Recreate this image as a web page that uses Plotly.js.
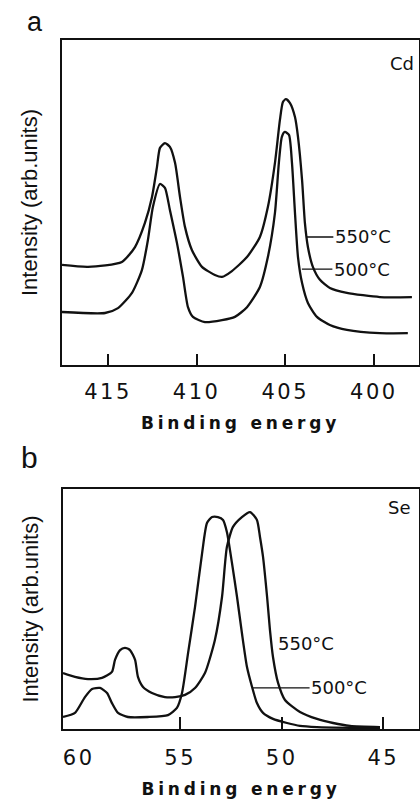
<!DOCTYPE html>
<html>
<head>
<meta charset="utf-8">
<script src="https://cdn.plot.ly/plotly-3.0.1.min.js"></script>
<style>
html,body{margin:0;padding:0;background:#fff;}
#chart{width:420px;height:802px;}
.xtitle, .x3title {letter-spacing:3.8px;}
.xtick text, .x3tick text {letter-spacing:2.5px;}
</style>
</head>
<body>
<div id="chart"></div>
<script>
// ---- Panel a: Cd 3d (binding energy in eV, intensity arb. units) ----
const cdEnergy550 = [417.60,416.13,414.22,413.48,412.92,412.52,412.24,412.07,411.79,411.51,411.22,410.94,410.66,410.27,409.70,408.97,408.57,408.01,407.16,406.43,405.98,405.58,405.30,405.13,404.96,404.73,404.45,404.28,404.05,403.89,403.72,403.44,403.04,402.48,401.52,399.66,397.85];
const cdIntensity550 = [30.8,30.2,31.7,36.3,43.7,51.7,60.9,66.8,68.3,67.1,62.2,51.7,42.5,35.4,30.2,27.7,27.1,28.9,33.2,39.4,48.6,62.2,75.4,80.9,81.8,80.6,76.3,70.2,56.9,43.7,36.3,30.2,26.2,23.7,22.2,20.9,20.9];
const cdEnergy500 = [417.60,415.17,414.44,413.65,413.09,412.75,412.47,412.07,411.79,411.51,411.11,410.77,410.49,410.21,409.53,408.57,407.84,407.16,406.43,405.98,405.58,405.36,405.19,405.02,404.79,404.62,404.45,404.28,404.05,403.72,403.21,402.48,401.52,399.66,398.08];
const cdIntensity500 = [16.3,16.0,17.5,22.2,29.2,38.5,48.6,55.7,54.5,47.7,37.5,27.1,17.8,14.8,13.2,13.8,14.8,17.8,24.0,33.2,46.8,62.2,70.2,71.7,70.8,62.2,46.8,33.2,25.2,19.1,14.8,12.3,10.8,9.8,9.8];
const cdTickVals = [415,410,405,400];

// ---- Panel b: Se 3d ----
const seEnergy550 = [60.77,60.18,59.54,58.85,58.36,58.21,57.96,57.72,57.47,57.22,57.08,56.83,56.39,55.75,55.25,54.76,54.27,53.78,53.29,52.94,52.70,52.40,51.96,51.56,51.22,51.07,50.92,50.72,50.58,50.43,50.18,49.84,49.10,48.26,47.47,46.63,45.16];
const seIntensity550 = [23.3,21.7,20.8,21.3,23.8,28.8,32.9,33.8,32.9,28.8,21.7,17.5,15.0,13.3,13.3,14.2,17.1,23.3,37.1,55.0,75.8,84.2,88.3,90.4,87.1,80.0,71.7,55.0,41.3,30.0,19.2,12.1,7.1,4.2,2.5,1.3,0.8];
const seEnergy500 = [60.77,60.18,59.69,59.34,58.95,58.60,58.36,58.06,57.57,56.59,55.60,55.16,54.91,54.61,54.27,53.92,53.68,53.43,53.14,52.89,52.70,52.45,52.20,51.96,51.71,51.46,51.22,50.92,50.43,49.74,49.10,48.26,46.63,45.16];
const seIntensity500 = [5.0,6.7,13.3,16.7,17.1,15.0,10.8,6.7,5.0,5.0,5.8,8.8,15.0,31.7,50.8,73.3,85.8,88.3,88.3,87.1,82.1,69.2,55.0,40.0,25.8,17.5,10.8,6.7,4.2,2.5,1.3,0.8,0.5,0.4];
const seTickLabelVals = [60,55,50,45];
const seTickMarkVals = [55,50,45];

const seriesNames = ['550°C','500°C'];
const panelLabels = ['a','b'];
const elementLabels = ['Cd','Se'];
const xTitle = 'Binding energy';
const yTitle = 'Intensity (arb.units)';

const lineStyle = {color:'#111', width:2.3, shape:'spline', smoothing:0.6};
const traces = [
  {x:cdEnergy550, y:cdIntensity550, name:seriesNames[0], mode:'lines', line:lineStyle, xaxis:'x', yaxis:'y'},
  {x:cdEnergy500, y:cdIntensity500, name:seriesNames[1], mode:'lines', line:lineStyle, xaxis:'x', yaxis:'y'},
  {x:seEnergy550, y:seIntensity550, name:seriesNames[0], mode:'lines', line:lineStyle, xaxis:'x2', yaxis:'y2'},
  {x:seEnergy500, y:seIntensity500, name:seriesNames[1], mode:'lines', line:lineStyle, xaxis:'x3', yaxis:'y2'}
];

const tickFont = {family:'DejaVu Sans, sans-serif', size:21, color:'#111'};
const xTitleFont = {family:'DejaVu Sans, sans-serif', size:17, color:'#111', weight:'bold'};
const yTitleFont = {family:'Liberation Sans Narrow, Liberation Sans, sans-serif', size:22, color:'#111'};
const handFont = {family:'DejaVu Sans, sans-serif', size:18, color:'#111'};

const frame = {showline:true, mirror:true, linecolor:'#111', linewidth:1.8, showgrid:false, zeroline:false};

const layout = {
  width:420, height:802,
  margin:{l:0,r:0,t:0,b:0},
  paper_bgcolor:'#fff', plot_bgcolor:'#fff',
  showlegend:false,
  xaxis: Object.assign({}, frame, {
    domain:[62/420, 419/420], anchor:'y', range:[417.6, 397.45],
    tickmode:'array', tickvals:cdTickVals, ticks:'inside', ticklen:11, tickwidth:1.8, tickcolor:'#111',
    tickfont:tickFont, ticklabelstandoff:7,
    title:{text:xTitle, font:xTitleFont, standoff:14}
  }),
  yaxis: Object.assign({}, frame, {
    domain:[437/802, 762/802], anchor:'x', range:[0,100],
    showticklabels:false, ticks:'',
    title:{text:yTitle, font:yTitleFont, standoff:16}
  }),
  xaxis2: Object.assign({}, frame, {
    domain:[63/420, 419/420], anchor:'y2', range:[60.77, 43.24],
    tickmode:'array', tickvals:seTickMarkVals, ticks:'inside', ticklen:12, tickwidth:1.8, tickcolor:'#111',
    showticklabels:false
  }),
  xaxis3: {
    domain:[63/420, 419/420], anchor:'y2', overlaying:'x2', side:'bottom', range:[60.77, 43.24],
    showline:false, showgrid:false, zeroline:false, ticks:'',
    tickmode:'array', tickvals:seTickLabelVals, tickfont:tickFont, ticklabelstandoff:14,
    title:{text:xTitle, font:xTitleFont, standoff:14}
  },
  yaxis2: Object.assign({}, frame, {
    domain:[73/802, 313/802], anchor:'x2', range:[0,100],
    showticklabels:false, ticks:'',
    title:{text:yTitle, font:yTitleFont, standoff:16}
  }),
  annotations:[
    {xref:'paper', yref:'paper', x:35/420, y:1-22/802, xanchor:'center', yanchor:'middle', text:panelLabels[0], showarrow:false, font:{family:'Liberation Sans, sans-serif', size:27, color:'#111'}},
    {xref:'paper', yref:'paper', x:29/420, y:1-458/802, xanchor:'center', yanchor:'middle', text:panelLabels[1], showarrow:false, font:{family:'Liberation Sans, sans-serif', size:30, color:'#111'}},
    {xref:'x', yref:'y', x:398.4, y:92.9, text:elementLabels[0], showarrow:false, font:handFont},
    {xref:'x2', yref:'y2', x:44.2, y:92.1, text:elementLabels[1], showarrow:false, font:handFont},
    {xref:'x', yref:'y', x:403.78, y:39.4, text:seriesNames[0], showarrow:true, arrowhead:0, arrowwidth:1.6, arrowcolor:'#111', ax:56, ay:0, font:handFont},
    {xref:'x', yref:'y', x:404.06, y:29.5, text:seriesNames[1], showarrow:true, arrowhead:0, arrowwidth:1.2, arrowcolor:'#111', ax:60, ay:0, font:handFont},
    {xref:'x2', yref:'y2', x:48.8, y:35.8, text:seriesNames[0], showarrow:false, font:handFont},
    {xref:'x2', yref:'y2', x:51.41, y:17.1, text:seriesNames[1], showarrow:true, arrowhead:0, arrowwidth:1.2, arrowcolor:'#111', ax:86, ay:0, font:handFont}
  ]
};

Plotly.newPlot('chart', traces, layout, {staticPlot:true, displayModeBar:false});
</script>
</body>
</html>
